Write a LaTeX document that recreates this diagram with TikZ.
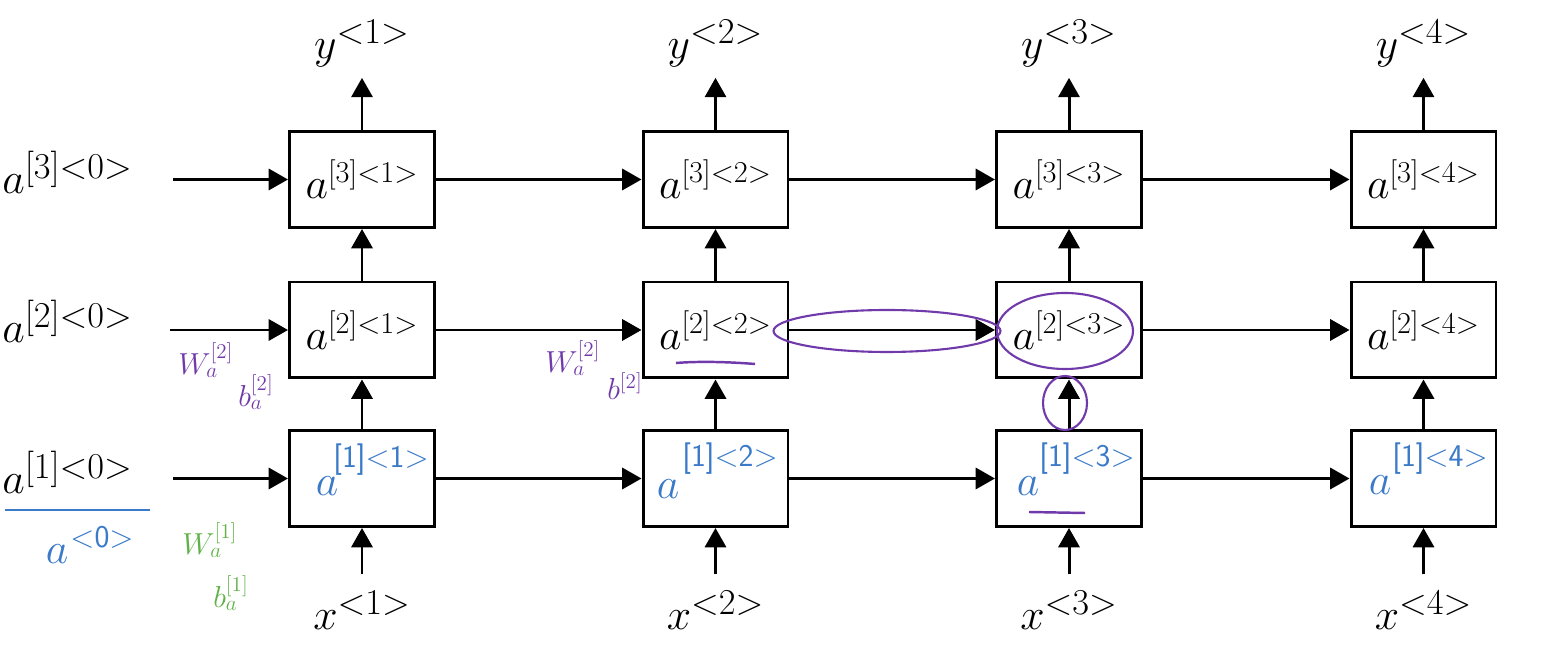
\documentclass[tikz,border=0pt]{standalone}
\usepackage{amsmath}
\usetikzlibrary{arrows.meta}
\definecolor{hwpurple}{RGB}{112,58,170}
\definecolor{hwblue}{RGB}{58,122,200}
\definecolor{hwgreen}{RGB}{96,178,72}
\tikzset{
  cell/.style={draw, line width=1.7pt, minimum width=2.9cm, minimum height=1.92cm, inner sep=0pt,
               font=\fontsize{25}{30}\selectfont},
  arr/.style={line width=1.7pt, -{Triangle[length=11pt,width=12pt]}},
  lbl/.style={inner sep=0pt, font=\fontsize{32}{38}\selectfont},
  hwa/.style={inner sep=0pt, text=hwblue, font=\fontsize{34}{40}\selectfont},
  hws/.style={inner sep=0pt, text=hwblue, font=\sffamily\fontsize{18}{22}\selectfont},
  hwp/.style={inner sep=0pt, text=hwpurple, font=\fontsize{17}{20}\selectfont},
  hwg/.style={inner sep=0pt, text=hwgreen, font=\fontsize{18}{21}\selectfont},
  ring/.style={draw=hwpurple, line width=1.2pt},
}
\begin{document}
\begin{tikzpicture}[x=0.02cm,y=-0.02cm]
\useasboundingbox (0,0) rectangle (1562,661);
% boxes
\foreach \c/\x in {1/362,2/715.5,3/1069,4/1423.5}{
  \node[cell] (t\c) at (\x,179.5) {$a^{[3]<\c>}$};
  \node[cell] (m\c) at (\x,330) {$a^{[2]<\c>}$};
  \node[cell] (b\c) at (\x,478.5) {};
  \node[lbl, anchor=base] (y\c) at (\x,59) {$y^{<\c>}$};
  \node[lbl, anchor=base] (x\c) at (\x,630) {$x^{<\c>}$};
}
% left initial activations
\node[lbl, anchor=base west] (L3) at (2,194) {$a^{[3]<0>}$};
\node[lbl, anchor=base west] (L2) at (2,343) {$a^{[2]<0>}$};
\node[lbl, anchor=base west] (L1) at (2,494) {$a^{[1]<0>}$};
\coordinate (s3) at (173,179.5);
\coordinate (s2) at (170,330);
\coordinate (s1) at (173,478.5);
\draw[arr] (s3) -- (t1);
\draw[arr] (s2) -- (m1);
\draw[arr] (s1) -- (b1);
% horizontal connections
\foreach \r in {t,m,b}{
  \draw[arr] (\r1) -- (\r2);
  \draw[arr] (\r2) -- (\r3);
  \draw[arr] (\r3) -- (\r4);
}
% vertical connections
\foreach \c in {1,2,3,4}{
  \draw[arr] (b\c) -- (m\c);
  \draw[arr] (m\c) -- (t\c);
  \draw[arr, shorten >=0.2cm] (t\c.north) -- (t\c.north |- y\c.south);
  \draw[arr, shorten <=0.32cm] (b\c.south |- x\c.north) -- (b\c.south);
}
% handwritten bottom-row labels
\node[hwa] (ha1) at (327,486) {$a$};
\node[hws] (hs1) at (381,460) {[1]<1>};
\node[hwa] (ha2) at (668,489) {$a$};
\node[hws] (hs2) at (730,459) {[1]<2>};
\node[hwa] (ha3) at (1028,486) {$a$};
\node[hws] (hs3) at (1087,459) {[1]<3>};
\node[hwa] (ha4) at (1380,485) {$a$};
\node[hws] (hs4) at (1440,459) {[1]<4>};
% blue a<0>
\draw[hwblue, line width=1.6pt] (5,510) -- (150,510);
\node[hwa] (a0) at (57,554) {$a$};
\node[hws] (a0s) at (102,537) {<0>};
% green W, b
\node[hwg, anchor=west] (gw) at (182,540) {$W_a^{[1]}$};
\node[hwg, anchor=west] (gb) at (213,593) {$b_a^{[1]}$};
% purple W, b
\node[hwp, anchor=west] (pw1) at (178,360) {$W_a^{[2]}$};
\node[hwp, anchor=west] (pb1) at (238,392) {$b_a^{[2]}$};
\node[hwp, anchor=west] (pw2) at (545,358) {$W_a^{[2]}$};
\node[hwp, anchor=west] (pb2) at (607,386) {$b^{[2]}$};
% purple marks
\draw[ring] (887,331) ellipse [x radius=2.27cm, y radius=0.42cm];
\draw[ring] (1065,331) ellipse [x radius=1.36cm, y radius=0.76cm];
\draw[ring] (1065,403) ellipse [x radius=0.44cm, y radius=0.54cm];
\draw[hwpurple, line width=1.4pt] (676,363) .. controls (700,361) and (730,362) .. (755,364);
\draw[hwpurple, line width=1.4pt] (1029,512) -- (1085,513);
\end{tikzpicture}
\end{document}
